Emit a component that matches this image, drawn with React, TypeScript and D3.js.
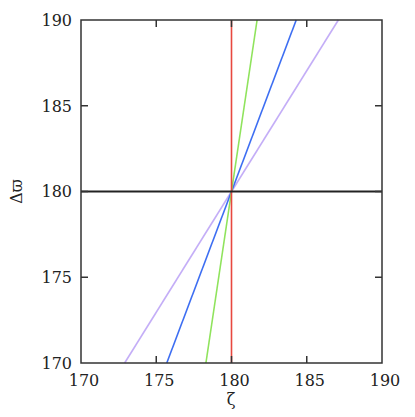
import * as d3 from 'd3';
import React, { useRef, useEffect } from 'react';

// x ticks / y ticks
const xTicks = [170, 175, 180, 185, 190];
const yTicks = [170, 175, 180, 185, 190];

// each line given by its end points (zeta, dvarpi)
const lineNames = ['purple', 'blue', 'green', 'red'];
const lineX0 = [172.9, 175.7, 178.3, 180.0];
const lineY0 = [170, 170, 170, 170];
const lineX1 = [187.1, 184.3, 181.7, 180.0];
const lineY1 = [190, 190, 190, 190];
const lineColors = ['#c4aef7', '#3d6ef2', '#8fe35c', '#e8483f'];

// horizontal reference line at 180
const hLineY = [180];

const W = 415;
const H = 417;
const margin = { left: 81, top: 20, right: 33, bottom: 54 };

function Chart() {
    const ref = useRef(null);

    useEffect(() => {
        const svg = d3.select(ref.current);
        svg.selectAll('*').remove();

        const x = d3.scaleLinear().domain([170, 190]).range([margin.left, W - margin.right]);
        const y = d3.scaleLinear().domain([170, 190]).range([H - margin.bottom, margin.top]);

        const g = svg.append('g');

        // lines
        lineNames.forEach((n, i) => {
            g.append('line')
                .attr('x1', x(lineX0[i]))
                .attr('y1', y(lineY0[i]))
                .attr('x2', x(lineX1[i]))
                .attr('y2', y(lineY1[i]))
                .attr('stroke', lineColors[i])
                .attr('stroke-width', 1.6);
        });

        hLineY.forEach(v => {
            g.append('line')
                .attr('x1', x(170)).attr('x2', x(190))
                .attr('y1', y(v)).attr('y2', y(v))
                .attr('stroke', '#222')
                .attr('stroke-width', 2);
        });

        // frame
        g.append('rect')
            .attr('x', x(170)).attr('y', y(190))
            .attr('width', x(190) - x(170))
            .attr('height', y(170) - y(190))
            .attr('fill', 'none')
            .attr('stroke', '#333')
            .attr('stroke-width', 1.5);

        const tl = 7;
        // ticks inward, all four sides
        xTicks.slice(1, -1).forEach(t => {
            g.append('line').attr('x1', x(t)).attr('x2', x(t))
                .attr('y1', y(170)).attr('y2', y(170) - tl)
                .attr('stroke', '#333').attr('stroke-width', 1.5);
            g.append('line').attr('x1', x(t)).attr('x2', x(t))
                .attr('y1', y(190)).attr('y2', y(190) + tl)
                .attr('stroke', '#333').attr('stroke-width', 1.5);
        });
        yTicks.slice(1, -1).forEach(t => {
            g.append('line').attr('x1', x(170)).attr('x2', x(170) + tl)
                .attr('y1', y(t)).attr('y2', y(t))
                .attr('stroke', '#333').attr('stroke-width', 1.5);
            g.append('line').attr('x1', x(190)).attr('x2', x(190) - tl)
                .attr('y1', y(t)).attr('y2', y(t))
                .attr('stroke', '#333').attr('stroke-width', 1.5);
        });

        const font = "'DejaVu Serif', serif";
        xTicks.forEach(t => {
            g.append('text')
                .attr('x', x(t) + 3)
                .attr('y', 386)
                .attr('text-anchor', 'middle')
                .attr('font-family', font)
                .attr('font-size', 16)
                .attr('fill', '#222')
                .text(t);
        });
        yTicks.forEach(t => {
            g.append('text')
                .attr('x', 72)
                .attr('y', y(t))
                .attr('dy', '0.36em')
                .attr('text-anchor', 'end')
                .attr('font-family', font)
                .attr('font-size', 16)
                .attr('fill', '#222')
                .text(t);
        });

        g.append('text')
            .attr('x', 231)
            .attr('y', 405)
            .attr('text-anchor', 'middle')
            .attr('font-family', font)
            .attr('font-size', 16)
            .attr('fill', '#222')
            .text('ζ');

        g.append('text')
            .attr('transform', `translate(22,${y(180)}) rotate(-90)`)
            .attr('text-anchor', 'middle')
            .attr('font-family', font)
            .attr('font-size', 16)
            .attr('fill', '#222')
            .text('Δϖ');
    }, []);

    return <svg ref={ref} width={W} height={H} style={{ display: 'block' }}></svg>;
}

export default function App() {
    return (
        <div style={{ position: 'absolute', left: 0, top: 0 }}>
            <Chart />
        </div>
    );
}
